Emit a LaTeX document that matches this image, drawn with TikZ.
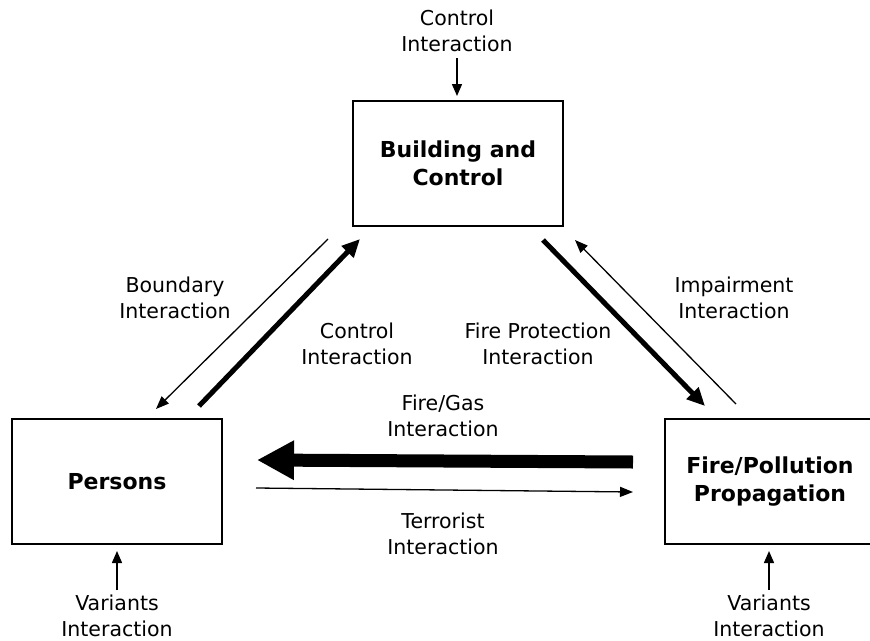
\documentclass[tikz,border=0pt]{standalone}
\usepackage{fontspec}
\setmainfont{DejaVu Sans}
\usetikzlibrary{arrows.meta,calc}
\begin{document}
\begin{tikzpicture}[x=1pt,y=-1pt,
  box/.style={draw,line width=2pt,minimum width=210pt,minimum height=125pt,
    inner sep=0pt,align=center,font=\fontsize{22}{28}\selectfont\bfseries},
  lbl/.style={align=center,inner sep=0pt,font=\fontsize{20.5}{25.5}\selectfont},
  thinarrow/.style={line width=1.3pt,-{Triangle[length=13pt,width=10pt]}},
  heavyarrow/.style={line width=5pt,-{Triangle[length=18pt,width=16pt]}},
  bigarrow/.style={line width=13pt,-{Triangle[length=37pt,width=37pt]}},
  vertarrow/.style={line width=1.5pt,-{Triangle[length=12pt,width=10pt]}}]
\useasboundingbox (0,0) rectangle (870,640);
\clip (0,0) rectangle (870,640);

% the three subsystems
\node[box] (bc) at (458,163.5) {Building and\\Control};
\node[box] (pers) at (117,481.5) {Persons};
\node[box] (fire) at (770,481.5) {Fire/Pollution\\Propagation};

% interaction labels
\node[lbl] (ctop) at (457,31) {Control\\Interaction};
\node[lbl] (lbound) at (175,298) {Boundary\\Interaction};
\node[lbl] (lctrl) at (357,344) {Control\\Interaction};
\node[lbl] (lprot) at (538,344) {Fire Protection\\Interaction};
\node[lbl] (limp) at (734,298) {Impairment\\Interaction};
\node[lbl] (lgas) at (443,416) {Fire/Gas\\Interaction};
\node[lbl] (lterr) at (443,534) {Terrorist\\Interaction};
\node[lbl] (vleft) at (117,616) {Variants\\Interaction};
\node[lbl] (vright) at (769,616) {Variants\\Interaction};

% external inputs
\draw[vertarrow] ([yshift=-6pt]ctop.south) -- ([yshift=4pt]bc.north -| ctop.south);
\draw[vertarrow] ([yshift=5pt]vleft.north) -- ([yshift=-6pt]pers.south -| vleft.north);
\draw[vertarrow] ([yshift=5pt]vright.north) -- ([yshift=-6pt]fire.south -| vright.north);

% building <-> persons
\draw[thinarrow] ($(bc.south west)+(-24,12)$) -- ($(pers.north east)+(-67,-9)$);
\draw[heavyarrow] ($(pers.north east)+(-24,-12)$) -- ($(bc.south west)+(8,12)$);

% building <-> fire
\draw[heavyarrow] ($(bc.south east)+(-21,13)$) -- ($(fire.north west)+(41,-12)$);
\draw[thinarrow] ($(fire.north west)+(72,-14)$) -- ($(bc.south east)+(11,13)$);

% fire <-> persons
\draw[bigarrow] ($(fire.west)+(-31,-19.5)$) -- ($(pers.east)+(34,-21.5)$);
\draw[thinarrow] ($(pers.east)+(33,6.5)$) -- ($(fire.west)+(-31,10.5)$);
\end{tikzpicture}
\end{document}
